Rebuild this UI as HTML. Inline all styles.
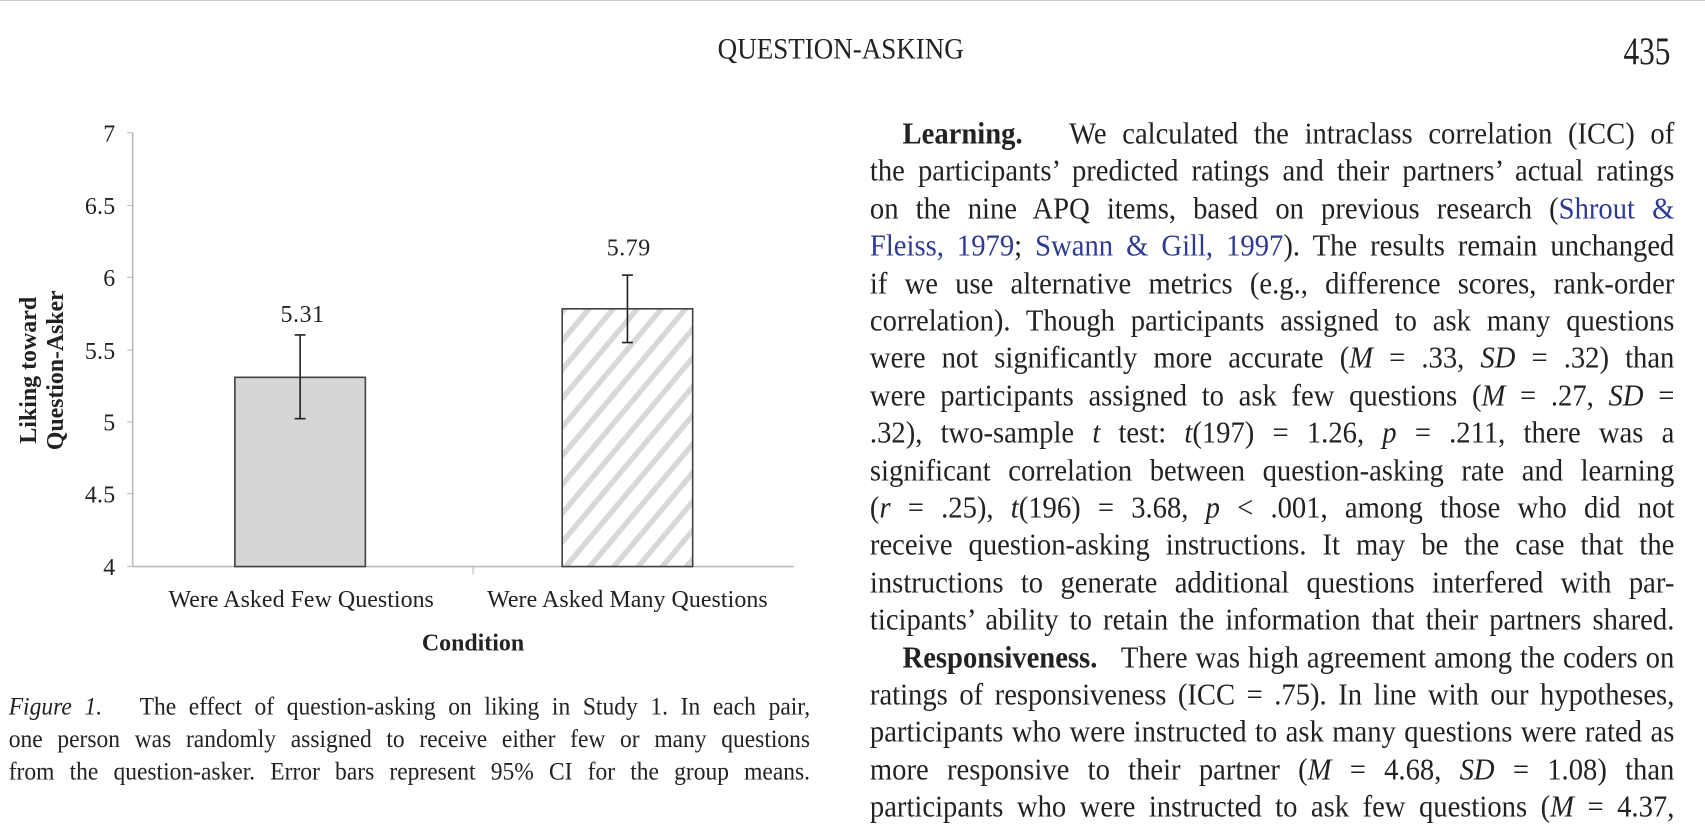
<!DOCTYPE html>
<html><head><meta charset="utf-8"><style>
html,body{margin:0;padding:0;background:#fff;}
body{width:1705px;height:822px;position:relative;overflow:hidden;font-family:"Liberation Serif",serif;color:#222;}
#w{position:absolute;left:0;top:0;width:1568px;height:756px;transform:scale(1.0874);transform-origin:0 0;}
.l{position:absolute;left:800px;width:787px;font-size:28px;line-height:30px;white-space:nowrap;text-align:justify;text-align-last:justify;transform:scaleX(0.94);transform-origin:0 0;}
.l.i{left:830px;width:755px;}
.c{position:absolute;left:8px;width:784px;font-size:23px;line-height:26px;text-align:justify;text-align-last:justify;white-space:nowrap;transform:scaleX(0.94);transform-origin:0 0;}
a{color:#2e3a95;text-decoration:none}
</style></head><body>
<div style="position:absolute;left:0;top:0;width:1705px;height:1px;background:#ccc"></div>
<div id="w">
<div style="position:absolute;left:660px;top:30px;font-size:27px;transform:scaleX(0.92);transform-origin:0 0">QUESTION-ASKING</div>
<div style="position:absolute;left:1493px;top:26px;font-size:36px;transform:scaleX(0.8);transform-origin:0 0">435</div>

<svg width="760" height="620" style="position:absolute;left:0;top:0" font-family="Liberation Serif, serif">
<defs><pattern id="h" patternUnits="userSpaceOnUse" width="17" height="17" patternTransform="rotate(40)"><rect width="17" height="17" fill="#fff"/><rect width="5" height="17" fill="#d8d8d8"/></pattern></defs>
<line x1="122" y1="122" x2="122" y2="521" stroke="#bbb" stroke-width="1.5"/>
<line x1="122" y1="521" x2="730" y2="521" stroke="#bbb" stroke-width="1.5"/>
<g stroke="#bbb"><line x1="117" y1="521" x2="122" y2="521"/><line x1="117" y1="122" x2="122" y2="122"/><line x1="117" y1="189" x2="122" y2="189"/><line x1="117" y1="255" x2="122" y2="255"/><line x1="117" y1="322" x2="122" y2="322"/><line x1="117" y1="388" x2="122" y2="388"/><line x1="117" y1="454" x2="122" y2="454"/></g>
<line x1="435" y1="521" x2="435" y2="528" stroke="#bbb"/>
<g font-size="22" text-anchor="end" fill="#222">
<text x="106" y="130">7</text><text x="106" y="197" textLength="28">6.5</text><text x="106" y="263">6</text><text x="106" y="330" textLength="28">5.5</text><text x="106" y="396">5</text><text x="106" y="462" textLength="28">4.5</text><text x="106" y="529">4</text>
</g>
<rect x="216" y="347" width="120" height="174" fill="#d6d6d8" stroke="#444" stroke-width="1.5"/>
<rect x="517" y="284" width="120" height="237" fill="url(#h)" stroke="#444" stroke-width="1.5"/>
<g stroke="#222" stroke-width="1.5">
<line x1="276" y1="308" x2="276" y2="385"/><line x1="271" y1="308" x2="281" y2="308"/><line x1="271" y1="385" x2="281" y2="385"/>
<line x1="577" y1="253" x2="577" y2="315"/><line x1="572" y1="253" x2="582" y2="253"/><line x1="572" y1="315" x2="582" y2="315"/>
</g>
<g font-size="22" fill="#222">
<text x="258" y="296" textLength="40">5.31</text><text x="558" y="235" textLength="40">5.79</text>
<text x="155" y="558" textLength="244">Were Asked Few Questions</text><text x="448" y="558" textLength="258">Were Asked Many Questions</text>
<text x="388" y="598" font-weight="bold" textLength="94">Condition</text>
</g>
<g font-size="22" font-weight="bold" fill="#222">
<text transform="translate(33,408) rotate(-90)" textLength="135">Liking toward</text>
<text transform="translate(58,414) rotate(-90)" textLength="147">Question-Asker</text>
</g>
</svg>

<div class="c" style="top:637px"><i>Figure 1.</i>&nbsp;&nbsp; The effect of question-asking on liking in Study 1. In each pair,</div>
<div class="c" style="top:667px">one person was randomly assigned to receive either few or many questions</div>
<div class="c" style="top:697px">from the question-asker. Error bars represent 95% CI for the group means.</div>

<div class="l i" style="top:109px"><b>Learning.</b>&nbsp;&nbsp; We calculated the intraclass correlation (ICC) of</div>
<div class="l" style="top:143px">the participants’ predicted ratings and their partners’ actual ratings</div>
<div class="l" style="top:178px">on the nine APQ items, based on previous research (<a>Shrout &amp;</a></div>
<div class="l" style="top:212px"><a>Fleiss, 1979</a>; <a>Swann &amp; Gill, 1997</a>). The results remain unchanged</div>
<div class="l" style="top:247px">if we use alternative metrics (e.g., difference scores, rank-order</div>
<div class="l" style="top:281px">correlation). Though participants assigned to ask many questions</div>
<div class="l" style="top:315px">were not significantly more accurate (<i>M</i> = .33, <i>SD</i> = .32) than</div>
<div class="l" style="top:350px">were participants assigned to ask few questions (<i>M</i> = .27, <i>SD</i> =</div>
<div class="l" style="top:384px">.32), two-sample <i>t</i> test: <i>t</i>(197) = 1.26, <i>p</i> = .211, there was a</div>
<div class="l" style="top:419px">significant correlation between question-asking rate and learning</div>
<div class="l" style="top:453px">(<i>r</i> = .25), <i>t</i>(196) = 3.68, <i>p</i> &lt; .001, among those who did not</div>
<div class="l" style="top:487px">receive question-asking instructions. It may be the case that the</div>
<div class="l" style="top:522px">instructions to generate additional questions interfered with par-</div>
<div class="l" style="top:556px">ticipants’ ability to retain the information that their partners shared.</div>
<div class="l i" style="top:591px"><b>Responsiveness.</b>&nbsp;&nbsp; There was high agreement among the coders on</div>
<div class="l" style="top:625px">ratings of responsiveness (ICC = .75). In line with our hypotheses,</div>
<div class="l" style="top:659px">participants who were instructed to ask many questions were rated as</div>
<div class="l" style="top:694px">more responsive to their partner (<i>M</i> = 4.68, <i>SD</i> = 1.08) than</div>
<div class="l" style="top:728px">participants who were instructed to ask few questions (<i>M</i> = 4.37,</div>
</div>
</body></html>
